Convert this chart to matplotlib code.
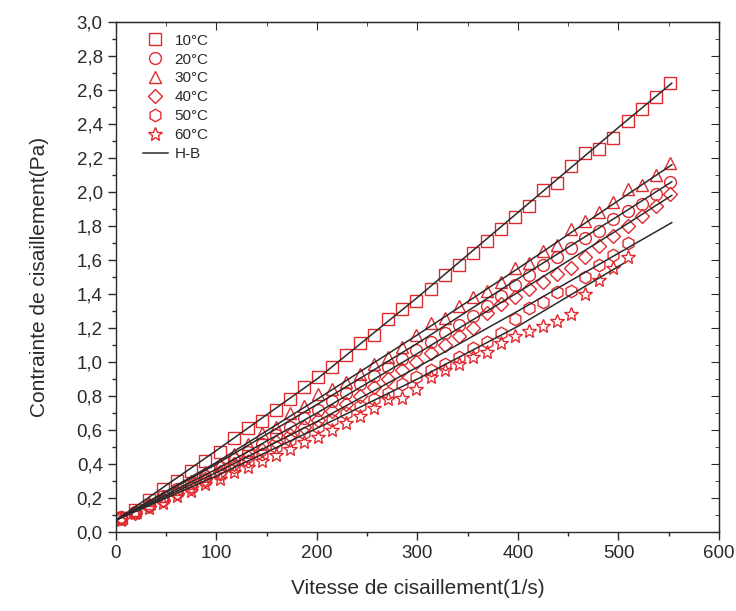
import numpy as np
import matplotlib
matplotlib.use("Agg")
import matplotlib.pyplot as plt
from matplotlib.ticker import MultipleLocator, FuncFormatter

plt.rcParams['font.family'] = ['Liberation Sans', 'DejaVu Sans']

# shear rate (1/s), same grid for every temperature
shear = [5, 19, 33, 47, 61, 75, 89, 103, 117, 131, 145, 159, 173, 187, 201, 215,
         229, 243, 257, 271, 285, 299, 313, 327, 341, 355, 369, 383, 397, 411,
         425, 439, 453, 467, 481, 495, 509, 523, 537, 551]

t10 = [0.08, 0.13, 0.19, 0.25, 0.30, 0.36, 0.42, 0.47, 0.55, 0.61, 0.65, 0.72,
       0.78, 0.85, 0.91, 0.97, 1.04, 1.11, 1.16, 1.25, 1.31, 1.36, 1.43, 1.51,
       1.57, 1.64, 1.71, 1.78, 1.85, 1.92, 2.01, 2.05, 2.15, 2.23, 2.25, 2.32,
       2.42, 2.49, 2.56, 2.64]
t20 = [0.09, 0.12, 0.16, 0.21, 0.25, 0.29, 0.33, 0.38, 0.43, 0.47, 0.52, 0.57,
       0.62, 0.67, 0.72, 0.77, 0.82, 0.87, 0.92, 0.97, 1.02, 1.07, 1.12, 1.17,
       1.22, 1.27, 1.33, 1.39, 1.45, 1.51, 1.57, 1.62, 1.67, 1.73, 1.77, 1.84,
       1.89, 1.93, 1.99, 2.06]
t30 = [0.08, 0.12, 0.17, 0.21, 0.25, 0.30, 0.35, 0.40, 0.46, 0.52, 0.58, 0.62,
       0.70, 0.74, 0.81, 0.84, 0.88, 0.93, 0.99, 1.03, 1.09, 1.16, 1.23, 1.26,
       1.33, 1.38, 1.42, 1.47, 1.55, 1.58, 1.65, 1.69, 1.78, 1.83, 1.88, 1.94,
       2.02, 2.04, 2.10, 2.17]
t40 = [0.08, 0.11, 0.15, 0.19, 0.23, 0.27, 0.31, 0.35, 0.40, 0.44, 0.48, 0.53,
       0.57, 0.62, 0.66, 0.71, 0.75, 0.80, 0.85, 0.90, 0.95, 1.00, 1.05, 1.10,
       1.15, 1.20, 1.29, 1.34, 1.38, 1.43, 1.47, 1.52, 1.55, 1.62, 1.68, 1.74,
       1.80, 1.86, 1.92, 1.99]
t50 = [0.09, 0.12, 0.15, 0.19, 0.23, 0.26, 0.30, 0.34, 0.38, 0.42, 0.46, 0.50,
       0.54, 0.58, 0.62, 0.66, 0.70, 0.74, 0.78, 0.82, 0.87, 0.91, 0.95, 0.99,
       1.03, 1.08, 1.12, 1.17, 1.25, 1.32, 1.35, 1.41, 1.42, 1.50, 1.57, 1.63,
       1.70]
t60 = [0.07, 0.11, 0.14, 0.17, 0.21, 0.24, 0.28, 0.31, 0.35, 0.38, 0.42, 0.45,
       0.49, 0.53, 0.56, 0.60, 0.64, 0.68, 0.73, 0.78, 0.79, 0.84, 0.91, 0.95,
       0.99, 1.03, 1.06, 1.11, 1.15, 1.18, 1.21, 1.24, 1.28, 1.40, 1.48, 1.55,
       1.62]

# Herschel-Bulkley fitted curves, read as a few points each
hb_x = [0, 100, 200, 300, 400, 500, 553]
hb10 = [0.07, 0.48, 0.90, 1.38, 1.88, 2.38, 2.64]
hb20 = [0.07, 0.40, 0.75, 1.11, 1.49, 1.86, 2.06]
hb30 = [0.07, 0.41, 0.78, 1.16, 1.55, 1.95, 2.16]
hb40 = [0.07, 0.37, 0.70, 1.05, 1.41, 1.78, 1.98]
hb50 = [0.07, 0.35, 0.65, 0.97, 1.30, 1.64, 1.82]
hb60_x = [0, 100, 200, 300, 400, 505]
hb60 = [0.07, 0.33, 0.61, 0.90, 1.21, 1.58]

labels = ['10°C', '20°C', '30°C', '40°C', '50°C', '60°C']
markers = ['s', 'o', '^', 'D', 'h', '*']
sizes = [8.5, 8.5, 9, 7, 9, 10.5]
series = [t10, t20, t30, t40, t50, t60]
red = '#e02a2f'
ink = '#2a2a2a'

fig = plt.figure(figsize=(7.36, 6.11), dpi=100)
ax = fig.add_axes([0.1576, 0.1293, 0.8193, 0.8347])

for ys, m, ms, lab in zip(series, markers, sizes, labels):
    ax.plot(shear[:len(ys)], ys, linestyle='none', marker=m, mfc='none',
            mec=red, ms=ms, mew=1.0, label=lab)

first = True
for yy in [hb10, hb20, hb30, hb40, hb50]:
    ax.plot(hb_x, yy, color=ink, lw=1.1, label='H-B' if first else None)
    first = False
ax.plot(hb60_x, hb60, color=ink, lw=1.1)

ax.set_xlim(0, 600)
ax.set_ylim(0, 3.0)
ax.xaxis.set_major_locator(MultipleLocator(100))
ax.xaxis.set_minor_locator(MultipleLocator(50))
ax.yaxis.set_major_locator(MultipleLocator(0.2))
ax.yaxis.set_minor_locator(MultipleLocator(0.1))
ax.yaxis.set_major_formatter(FuncFormatter(lambda v, p: ('%.1f' % v).replace('.', ',')))

ax.tick_params(which='both', direction='out', labelsize=13.5, colors=ink)
ax.tick_params(which='major', length=6, width=1)
ax.tick_params(which='minor', length=3, width=1)
for s in ax.spines.values():
    s.set_linewidth(1.0)
    s.set_color(ink)

# inward ticks on the top and right sides
ax2 = ax.secondary_xaxis('top')
ax2.xaxis.set_major_locator(MultipleLocator(100))
ax2.xaxis.set_minor_locator(MultipleLocator(50))
ax2.tick_params(which='both', direction='in', labeltop=False, colors=ink)
ax2.tick_params(which='major', length=6)
ax2.tick_params(which='minor', length=3)
ax3 = ax.secondary_yaxis('right')
ax3.yaxis.set_major_locator(MultipleLocator(0.2))
ax3.yaxis.set_minor_locator(MultipleLocator(0.1))
ax3.tick_params(which='both', direction='in', labelright=False, colors=ink)
ax3.tick_params(which='major', length=6)
ax3.tick_params(which='minor', length=3)

ax.set_xlabel('Vitesse de cisaillement(1/s)', fontsize=15, labelpad=12, color=ink)
ax.set_ylabel('Contrainte de cisaillement(Pa)', fontsize=15, labelpad=20, color=ink)

leg = ax.legend(loc='upper left', bbox_to_anchor=(0.03, 0.995), frameon=False,
                fontsize=11, handlelength=1.6, labelspacing=0.32,
                handletextpad=0.45, borderaxespad=0.2)
for t in leg.get_texts():
    t.set_color(ink)

fig.savefig('out.png', dpi=100)
